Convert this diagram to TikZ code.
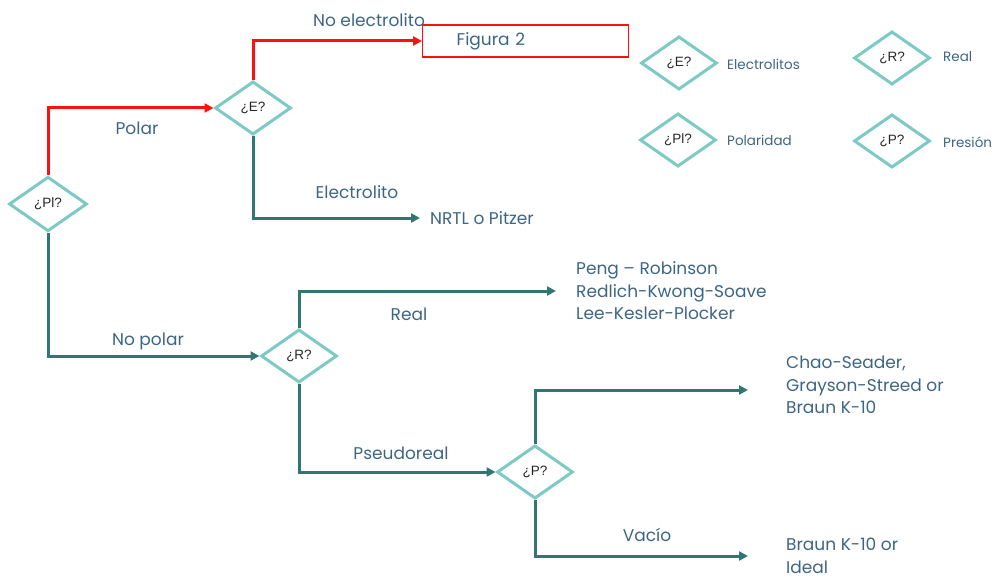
\documentclass[tikz,border=0pt]{standalone}
\usepackage{fontspec}
\setmainfont{Poppins}
\newfontfamily\dfont{Liberation Sans}
\usetikzlibrary{shapes.geometric,arrows.meta,calc}
\definecolor{tealline}{HTML}{2E7773}
\definecolor{dia}{HTML}{7DCAC4}
\definecolor{txt}{HTML}{3D6584}
\definecolor{redl}{HTML}{FF1010}
\begin{document}
\begin{tikzpicture}[x=1pt,y=-1pt,
  dec/.style={diamond,draw=dia,line width=3pt,fill=white,aspect=1.45,inner sep=0pt,
    minimum width=#1,minimum height=#1*0.7,font=\dfont\fontsize{13.5}{15}\selectfont,text=black!85},
  dec/.default=76,
  lbl/.style={text=txt,font=\fontsize{17}{20}\selectfont,inner sep=0pt},
  leg/.style={text=txt,font=\fontsize{13.5}{14}\selectfont,inner sep=0pt,anchor=west},
  res/.style={text=txt,font=\fontsize{17}{22.5}\selectfont,align=left,anchor=west,inner ysep=0pt},
  tline/.style={draw=tealline,line width=3pt,-{Triangle[length=9pt,width=9pt]}},
  rline/.style={draw=redl,line width=3pt,-{Triangle[length=9pt,width=9pt]}},
]
\useasboundingbox (0,0) rectangle (997,578);
% decision diamonds
\node[dec=78] (pi) at (48,204) {¿Pl?};
\node[dec] (e) at (253,108) {¿E?};
\node[dec] (r) at (299,356) {¿R?};
\node[dec] (p) at (535,472) {¿P?};
% figura box
\node[draw=redl,line width=1.4pt,anchor=west,minimum width=206,minimum height=32,
  inner xsep=34pt,text width=138pt,align=left,text=txt,font=\fontsize{17}{18}\selectfont] (fig) at (422,41) {Figura 2};
% results
\node[res,inner xsep=10pt] (nrtl) at (420,218) {NRTL o Pitzer};
\node[res,inner xsep=20pt] (peng) at (556,291) {Peng – Robinson\\Redlich-Kwong-Soave\\Lee-Kesler-Plocker};
\node[res,inner xsep=38pt] (chao) at (748,385) {Chao-Seader,\\Grayson-Streed or\\Braun K-10};
\node[res,inner xsep=38pt] (braun) at (748,556) {Braun K-10 or\\Ideal};
% connectors
\draw[rline] (pi.north) |- (e.west);
\draw[rline] (e.north) |- (fig.west);
\draw[tline] (e.south) |- (nrtl.west);
\draw[tline] (pi.south) |- (r.west);
\draw[tline] (r.north) |- (peng.west);
\draw[tline] (r.south) |- (p.west);
\draw[tline] (p.north) |- ($(chao.west)+(0,5)$);
\draw[tline] (p.south) |- (braun.west);
% labels
\node[lbl] (lpolar) at (137,128) {Polar};
\node[lbl] (lnoel) at (369,20) {No electrolito};
\node[lbl] (lel) at (357,192) {Electrolito};
\node[lbl] (lnop) at (148,341) {No polar};
\node[lbl] (lreal) at (409,314) {Real};
\node[lbl] (lpseudo) at (401,453) {Pseudoreal};
\node[lbl] (lvac) at (647,535) {Vacío};
% legend
\node[dec=76] (le) at (679,63) {¿E?};
\node[leg] (lte) at (727,64) {Electrolitos};
\node[dec=76] (lr) at (892,58) {¿R?};
\node[leg] (ltr) at (943,57) {Real};
\node[dec=76] (lp) at (678,140) {¿Pl?};
\node[leg] (ltp) at (727,140) {Polaridad};
\node[dec=76] (lpp) at (892,141) {¿P?};
\node[leg] (ltpp) at (943,142) {Presión};
\end{tikzpicture}
\end{document}
